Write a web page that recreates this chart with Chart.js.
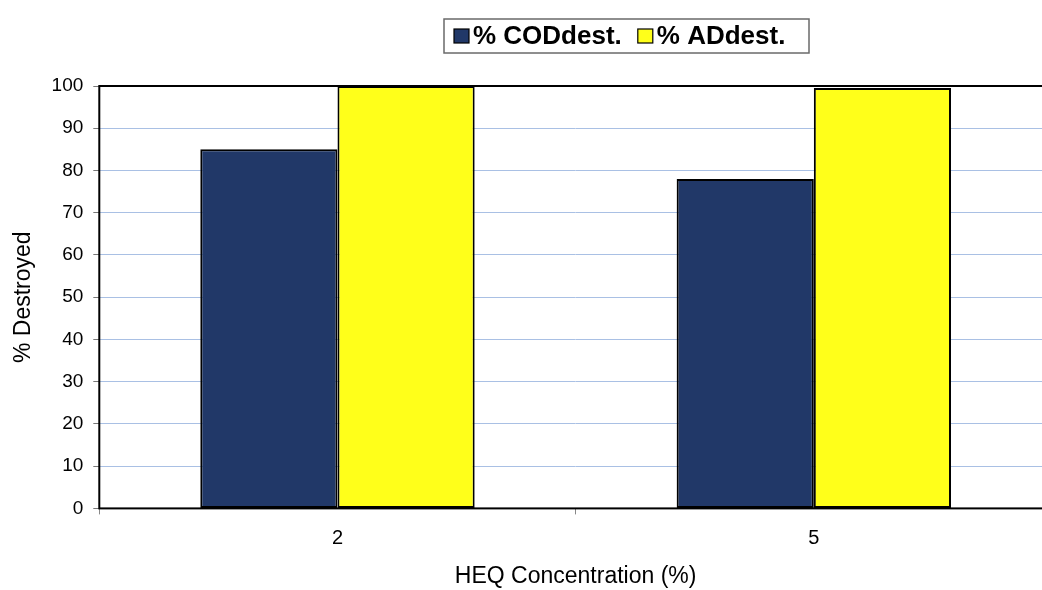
<!DOCTYPE html>
<html>
<head>
<meta charset="utf-8">
<script src="https://cdn.jsdelivr.net/npm/chart.js@4/dist/chart.umd.min.js"></script>
<style>
  html, body { margin: 0; padding: 0; background: #ffffff; overflow: hidden; }
  #wrap { position: relative; width: 1052px; height: 590px; }
</style>
</head>
<body>
<div id="wrap"><canvas id="chart"></canvas></div>
<script>
// HEQ concentrations tested (%)
const categories = ['2', '5'];
// Percentage of COD destroyed
const codDestroyed = [85, 78];
// Percentage of AD destroyed
const adDestroyed = [100, 99.5];
// Y axis tick values
const yTicks = [0, 10, 20, 30, 40, 50, 60, 70, 80, 90, 100];
const seriesLabels = ['% CODdest.', '% ADdest.'];

const FONT = "'Liberation Sans', Arial, sans-serif";

// Frame around the plotting area
const plotFrame = {
  id: 'plotFrame',
  afterDatasetsDraw(chart) {
    const { ctx, chartArea: a } = chart;
    ctx.save();
    ctx.strokeStyle = '#000000';
    ctx.lineWidth = 2;
    ctx.strokeRect(a.left, a.top, a.right - a.left, a.bottom - a.top);
    ctx.restore();
  }
};

// Boxed legend above the plot
const boxLegend = {
  id: 'boxLegend',
  afterDraw(chart, args, opts) {
    const { ctx } = chart;
    ctx.save();
    ctx.strokeStyle = '#6a6a6a';
    ctx.lineWidth = 1.5;
    ctx.strokeRect(opts.x, opts.y, opts.w, opts.h);
    ctx.font = 'bold ' + opts.fontSize + 'px ' + FONT;
    ctx.textBaseline = 'middle';
    ctx.textAlign = 'left';
    const cy = opts.y + opts.h / 2;
    let x = opts.x + opts.padLeft;
    chart.data.datasets.forEach((ds, i) => {
      ctx.fillStyle = ds.backgroundColor;
      ctx.fillRect(x, cy - 7, 15, 14);
      ctx.strokeStyle = '#000000';
      ctx.lineWidth = 1.2;
      ctx.strokeRect(x, cy - 7, 15, 14);
      x += 19;
      ctx.fillStyle = '#000000';
      ctx.fillText(ds.label, x, cy + 1);
      x += ctx.measureText(ds.label).width + opts.gap;
    });
    ctx.restore();
  }
};

new Chart(document.getElementById('chart'), {
  type: 'bar',
  data: {
    labels: categories,
    datasets: [
      {
        label: seriesLabels[0],
        data: codDestroyed,
        backgroundColor: '#213868',
        borderColor: '#000000',
        borderWidth: 2,
        borderSkipped: false
      },
      {
        label: seriesLabels[1],
        data: adDestroyed,
        backgroundColor: '#ffff1a',
        borderColor: '#000000',
        borderWidth: 2,
        borderSkipped: false
      }
    ]
  },
  options: {
    responsive: true,
    maintainAspectRatio: false,
    animation: false,
    layout: { padding: { top: 86, right: 0, bottom: 0, left: 10 } },
    datasets: {
      bar: { categoryPercentage: 0.576, barPercentage: 1.0 }
    },
    plugins: {
      legend: { display: false },
      tooltip: { enabled: false },
      boxLegend: { x: 444, y: 19, w: 365, h: 34, padLeft: 10, gap: 16, fontSize: 26 }
    },
    scales: {
      x: {
        offset: true,
        border: { display: false },
        grid: {
          offset: true,
          drawOnChartArea: false,
          drawTicks: true,
          tickLength: 6,
          color: '#888888'
        },
        ticks: {
          color: '#000000',
          padding: 12,
          font: { family: FONT, size: 20 }
        },
        title: {
          display: true,
          text: 'HEQ Concentration (%)',
          color: '#000000',
          padding: { top: 0, bottom: 0 },
          font: { family: FONT, size: 23 }
        }
      },
      y: {
        min: 0,
        max: 100,
        afterBuildTicks(scale) {
          scale.ticks = yTicks.map(v => ({ value: v }));
        },
        border: { display: false },
        grid: {
          color: '#a9c0e4',
          lineWidth: 1,
          drawTicks: true,
          tickLength: 6,
          tickColor: '#777777'
        },
        ticks: {
          color: '#000000',
          padding: 10,
          font: { family: FONT, size: 19 }
        },
        title: {
          display: true,
          text: '% Destroyed',
          color: '#000000',
          padding: { top: 0, bottom: 4 },
          font: { family: FONT, size: 23 }
        }
      }
    }
  },
  plugins: [plotFrame, boxLegend]
});
</script>
</body>
</html>
